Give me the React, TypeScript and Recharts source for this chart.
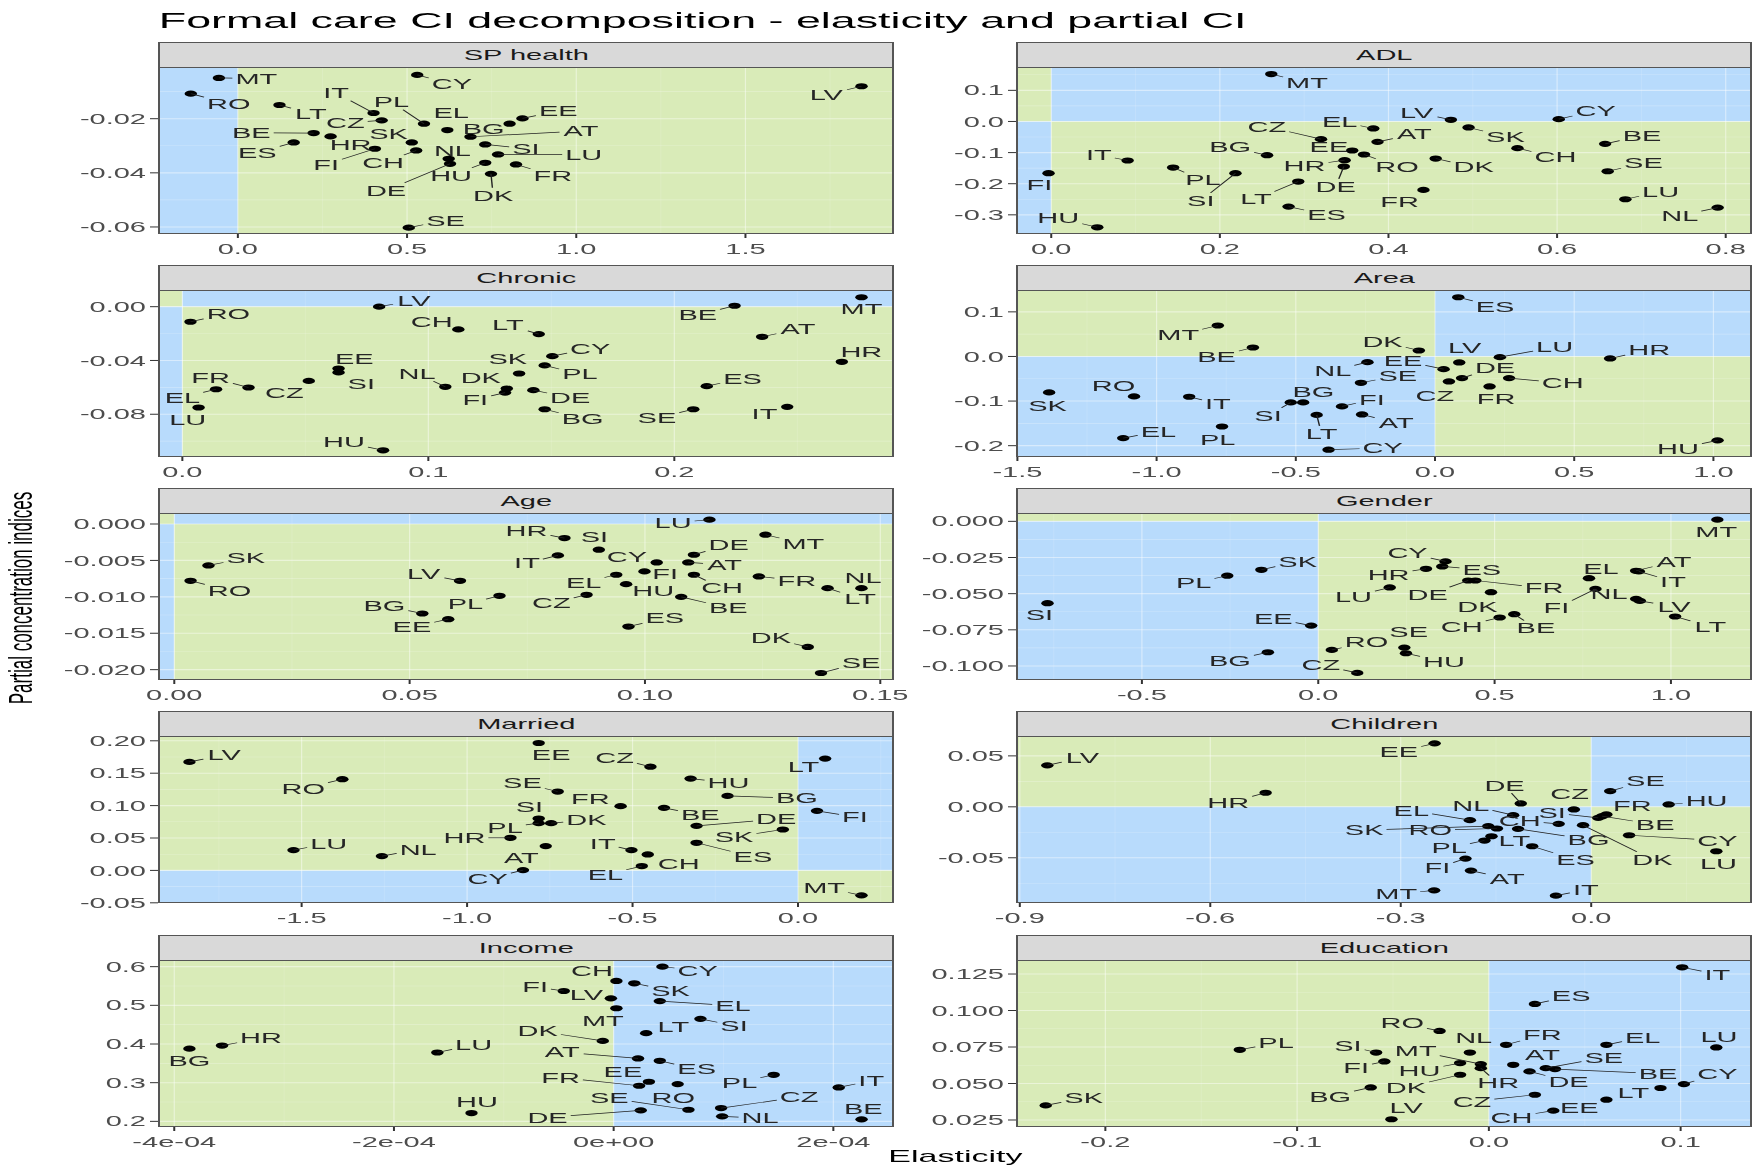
import React from "react"
import {
  ReferenceArea,
  ReferenceLine,
  Scatter,
  ScatterChart,
  XAxis,
  YAxis,
} from "recharts"

type Row = [string, number, number]
type Nudge = Record<string, [number, number]>

// [country, elasticity, partial CI]
const spHealth: Row[] = [
  ["MT", -0.056, -0.00494], ["CY", 0.53, -0.00383], ["RO", -0.139, -0.01074],
  ["LV", 1.843, -0.00802], ["LT", 0.123, -0.01494], ["IT", 0.401, -0.0179],
  ["PL", 0.55, -0.02185], ["CZ", 0.425, -0.0206], ["EL", 0.619, -0.0242],
  ["EE", 0.841, -0.0199], ["BG", 0.803, -0.02185], ["AT", 0.6875, -0.02667],
  ["SK", 0.514, -0.02877], ["BE", 0.224, -0.0253], ["HR", 0.274, -0.02654],
  ["ES", 0.165, -0.02877], ["FI", 0.405, -0.0311], ["CH", 0.527, -0.03173],
  ["NL", 0.623, -0.03481], ["SI", 0.731, -0.02951], ["LU", 0.769, -0.03321],
  ["DE", 0.627, -0.03667], ["HU", 0.731, -0.0363], ["FR", 0.822, -0.03691],
  ["DK", 0.748, -0.04037], ["SE", 0.505, -0.06025],
]
const adl: Row[] = [
  ["MT", 0.261, 0.1524], ["LV", 0.474, 0.0054], ["CY", 0.602, 0.0075],
  ["EL", 0.382, -0.0225], ["SK", 0.495, -0.0193], ["CZ", 0.32, -0.0569],
  ["AT", 0.387, -0.0655], ["EE", 0.357, -0.0933], ["BE", 0.657, -0.0719],
  ["CH", 0.553, -0.0858], ["BG", 0.256, -0.1084], ["IT", 0.0906, -0.1255],
  ["RO", 0.371, -0.1062], ["HR", 0.348, -0.1245], ["DK", 0.456, -0.1191],
  ["PL", 0.1446, -0.1481], ["DE", 0.347, -0.1448], ["SE", 0.66, -0.1599],
  ["SI", 0.2185, -0.1663], ["FI", -0.0032, -0.1663], ["LT", 0.293, -0.1931],
  ["FR", 0.4415, -0.22], ["LU", 0.681, -0.25], ["ES", 0.2815, -0.2736],
  ["NL", 0.7905, -0.2768], ["HU", 0.0546, -0.34],
]
const chronic: Row[] = [
  ["LV", 0.08, 0.0], ["RO", 0.0033, -0.0112], ["BE", 0.2245, 0.0007],
  ["MT", 0.2761, 0.007], ["CH", 0.1122, -0.0169], ["LT", 0.1449, -0.0204],
  ["AT", 0.2357, -0.0224], ["CY", 0.1504, -0.0368], ["HR", 0.2681, -0.041],
  ["EE", 0.0635, -0.046], ["SI", 0.0635, -0.0489], ["SK", 0.1369, -0.0497],
  ["PL", 0.1473, -0.0437], ["NL", 0.1069, -0.0596], ["FR", 0.0269, -0.0601],
  ["CZ", 0.0514, -0.0552], ["EL", 0.0137, -0.0614], ["LU", 0.0066, -0.075],
  ["DK", 0.1319, -0.0609], ["FI", 0.1312, -0.0639], ["DE", 0.1427, -0.0621],
  ["ES", 0.2132, -0.0591], ["SE", 0.2077, -0.0763], ["IT", 0.2459, -0.0745],
  ["BG", 0.1473, -0.0763], ["HU", 0.0816, -0.1068],
]
const area: Row[] = [
  ["ES", 0.0835, 0.1328], ["MT", -0.78, 0.0694], ["BE", -0.654, 0.0201],
  ["DK", -0.058, 0.0134], ["LV", 0.087, -0.0134], ["LU", 0.233, -0.0015],
  ["HR", 0.629, -0.0045], ["NL", -0.2426, -0.0127], ["EE", 0.031, -0.0284],
  ["SE", -0.266, -0.059], ["DE", 0.097, -0.0485], ["CZ", 0.05, -0.056],
  ["CH", 0.266, -0.0485], ["FR", 0.196, -0.0672], ["SK", -1.386, -0.0806],
  ["RO", -1.081, -0.0896], ["IT", -0.883, -0.0903], ["BG", -0.4736, -0.103],
  ["SI", -0.518, -0.103], ["FI", -0.334, -0.112], ["AT", -0.262, -0.13],
  ["LT", -0.425, -0.131], ["PL", -0.765, -0.157], ["EL", -1.12, -0.183],
  ["CY", -0.3824, -0.209], ["HU", 1.015, -0.188],
]
const age: Row[] = [
  ["LU", 0.1137, 0.0006], ["MT", 0.1256, -0.00147], ["HR", 0.0829, -0.00193],
  ["SI", 0.0902, -0.00353], ["DE", 0.1104, -0.00422], ["IT", 0.0815, -0.00431],
  ["SK", 0.00726, -0.00569], ["CY", 0.1025, -0.00528], ["AT", 0.1092, -0.00528],
  ["EL", 0.0939, -0.00697], ["FI", 0.0999, -0.00651], ["CH", 0.1104, -0.00697],
  ["FR", 0.1242, -0.0072], ["LV", 0.0607, -0.0078], ["RO", 0.00346, -0.0078],
  ["HU", 0.096, -0.00826], ["NL", 0.146, -0.00881], ["LT", 0.1388, -0.00881],
  ["CZ", 0.0876, -0.00972], ["PL", 0.0691, -0.00986], ["BE", 0.1077, -0.01],
  ["BG", 0.0527, -0.01229], ["EE", 0.0582, -0.01307], ["ES", 0.0965, -0.01408],
  ["DK", 0.1346, -0.01688], ["SE", 0.1374, -0.02046],
]
const gender: Row[] = [
  ["MT", 1.1316, 0.00115], ["CY", 0.3608, -0.0277], ["ES", 0.3516, -0.0312],
  ["HR", 0.3055, -0.0328], ["SK", -0.1612, -0.0335], ["PL", -0.258, -0.0376],
  ["LU", 0.2027, -0.0457], ["DE", 0.4253, -0.0409], ["FR", 0.4453, -0.0409],
  ["DK", 0.4898, -0.049], ["SI", -0.7677, -0.0566], ["EL", 0.7677, -0.0393],
  ["AT", 0.9013, -0.0342], ["IT", 0.909, -0.0346], ["NL", 0.9013, -0.0536],
  ["FI", 0.786, -0.0467], ["LV", 0.912, -0.055], ["LT", 1.0118, -0.0658],
  ["CH", 0.5144, -0.0665], ["BE", 0.5558, -0.0642], ["EE", -0.02, -0.0721],
  ["RO", 0.0384, -0.0889], ["SE", 0.2441, -0.0873], ["HU", 0.2487, -0.0912],
  ["BG", -0.1428, -0.0905], ["CZ", 0.1106, -0.1048],
]
const married: Row[] = [
  ["LV", -1.839, 0.1674], ["EE", -0.7836, 0.1966], ["CZ", -0.446, 0.16],
  ["LT", 0.082, 0.1725], ["RO", -1.377, 0.1407], ["HU", -0.3246, 0.1417],
  ["SE", -0.7262, 0.1217], ["BG", -0.2131, 0.115], ["FR", -0.536, 0.0991],
  ["BE", -0.405, 0.0965], ["DE", -0.3066, 0.0688], ["FI", 0.0574, 0.0919],
  ["SI", -0.7836, 0.0801], ["DK", -0.746, 0.0729], ["PL", -0.7836, 0.0729],
  ["HR", -0.8689, 0.0503], ["SK", -0.0459, 0.0631], ["ES", -0.3066, 0.0426],
  ["LU", -1.5246, 0.0313], ["NL", -1.2574, 0.0221], ["AT", -0.7623, 0.0375],
  ["IT", -0.5033, 0.0313], ["CH", -0.454, 0.0246], ["EL", -0.472, 0.0067],
  ["CY", -0.8311, 0.0005], ["MT", 0.1918, -0.0385],
]
const children: Row[] = [
  ["EE", -0.2466, 0.0623], ["LV", -0.8567, 0.0407], ["SE", 0.0299, 0.0154],
  ["HR", -0.5128, 0.0138], ["DE", -0.1109, 0.0033], ["HU", 0.122, 0.0023],
  ["CZ", -0.0273, -0.0026], ["FR", 0.0239, -0.0075], ["BE", 0.0171, -0.0092],
  ["SI", 0.0111, -0.0108], ["NL", -0.1229, -0.0082], ["EL", -0.1911, -0.0131],
  ["CH", -0.0512, -0.0167], ["DK", -0.0128, -0.018], ["BG", -0.1152, -0.0216],
  ["RO", -0.1485, -0.0213], ["SK", -0.1621, -0.019], ["CY", 0.0597, -0.0279],
  ["LU", 0.1971, -0.0436], ["LT", -0.157, -0.0289], ["PL", -0.1681, -0.0331],
  ["ES", -0.093, -0.0387], ["FI", -0.198, -0.0508], ["AT", -0.1894, -0.0626],
  ["MT", -0.2474, -0.082], ["IT", -0.0555, -0.0872],
]
const income: Row[] = [
  ["CY", 0.444e-4, 0.6], ["CH", 0.025e-4, 0.563], ["SK", 0.188e-4, 0.557],
  ["FI", -0.454e-4, 0.537], ["LV", -0.025e-4, 0.518], ["EL", 0.42e-4, 0.511],
  ["MT", 0.025e-4, 0.4925], ["SI", 0.79e-4, 0.465], ["LT", 0.296e-4, 0.428],
  ["DK", -0.099e-4, 0.408], ["HR", -3.565e-4, 0.396], ["BG", -3.862e-4, 0.388],
  ["LU", -1.605e-4, 0.378], ["AT", 0.222e-4, 0.3626], ["ES", 0.42e-4, 0.3566],
  ["EE", 0.321e-4, 0.3024], ["FR", 0.232e-4, 0.292], ["RO", 0.583e-4, 0.2963],
  ["PL", 1.457e-4, 0.3204], ["IT", 2.049e-4, 0.2877], ["SE", 0.681e-4, 0.23],
  ["CZ", 0.978e-4, 0.2344], ["DE", 0.247e-4, 0.2284], ["NL", 0.988e-4, 0.213],
  ["HU", -1.294e-4, 0.2215], ["BE", 2.257e-4, 0.2052],
]
const education: Row[] = [
  ["IT", 0.1008, 0.1296], ["ES", 0.024, 0.1045], ["RO", -0.0257, 0.086],
  ["PL", -0.1299, 0.0731], ["SI", -0.0588, 0.0712], ["NL", -0.0099, 0.0712],
  ["FR", 0.009, 0.0765], ["EL", 0.0613, 0.0765], ["LU", 0.1186, 0.0747],
  ["MT", -0.0042, 0.0633], ["HU", -0.015, 0.064], ["DK", -0.015, 0.056],
  ["FI", -0.0545, 0.0651], ["BG", -0.0616, 0.0473], ["SK", -0.2311, 0.035],
  ["LV", -0.0508, 0.0255], ["CZ", 0.024, 0.0423], ["CH", 0.0336, 0.0314],
  ["EE", 0.0613, 0.0389], ["LT", 0.0895, 0.0469], ["CY", 0.1017, 0.0496],
  ["AT", 0.0127, 0.0628], ["DE", 0.0212, 0.0583], ["SE", 0.0297, 0.0605],
  ["BE", 0.0345, 0.0599], ["HR", -0.0042, 0.0605],
]

const spHealthLabels: Nudge = {
  MT: [69, 2], CY: [64, 28], RO: [70, 30], LV: [-65, 25], LT: [58, 26], IT: [-69, -60],
  PL: [-60, -65], CZ: [-67, 8], EL: [7, -51], EE: [66, -22], BG: [-48, 16], AT: [204, -17],
  SK: [-43, -26], BE: [-115, -1], HR: [37, 24], ES: [-67, 31], FI: [-90, 47], CH: [-61, 37],
  NL: [7, -25], SI: [75, 12], LU: [158, 0], DE: [-118, 80], HU: [-63, 38], FR: [68, 33],
  DK: [4, 65], SE: [68, -22],
}
const adlLabels: Nudge = {
  MT: [66, 27], LV: [-63, -22], CY: [68, -25], EL: [-62, -21], SK: [68, 27], CZ: [-100, -38],
  AT: [68, -23], EE: [-43, -12], BE: [68, -24], CH: [70, 27], BG: [-68, -24], IT: [-53, -17],
  RO: [61, 36], HR: [-74, 17], DK: [70, 26], PL: [55, 37], DE: [-15, 60], SE: [66, -24],
  SI: [-64, 82], FI: [-17, 35], LT: [-78, 53], FR: [-44, 35], LU: [65, -23], ES: [70, 25],
  NL: [-70, 24], HU: [-72, -27],
}
const chronicLabels: Nudge = {
  LV: [64, -18], RO: [70, -25], BE: [-68, 28], MT: [0, 36], CH: [-49, -23], LT: [-57, -27],
  AT: [66, -23], CY: [70, -23], HR: [36, -30], EE: [29, -30], SI: [42, 35], SK: [-21, -45],
  PL: [65, 26], NL: [-52, -40], FR: [-70, -30], CZ: [-45, 35], EL: [-62, 25], LU: [-20, 36],
  DK: [-48, -33], FI: [-55, 21], DE: [68, 23], ES: [66, -23], SE: [-67, 26], IT: [-42, 22],
  BG: [70, 28], HU: [-72, -25],
}
const areaLabels: Nudge = {
  ES: [68, 28], MT: [-73, 28], BE: [-67, 27], DK: [-67, -27], LV: [10, -45], LU: [101, -30],
  HR: [72, -26], NL: [-64, 26], EE: [-75, -25], SE: [68, -21], DE: [61, -32], CZ: [-26, 43],
  CH: [99, 15], FR: [12, 38], SK: [-3, 39], RO: [-38, -32], IT: [53, 21], BG: [19, -31],
  SI: [-42, 39], FI: [55, -20], AT: [63, 26], LT: [9, 56], PL: [-8, 40], EL: [65, -20],
  CY: [100, -5], HU: [-73, 25],
}
const ageLabels: Nudge = {
  LU: [-67, 10], MT: [70, 27], HR: [-70, -22], SI: [-8, -40], DE: [64, -30], IT: [-57, 23],
  SK: [69, -22], CY: [-55, -18], AT: [67, 7], EL: [-60, 23], FI: [38, 8], CH: [52, 40],
  FR: [70, 12], LV: [-67, -20], RO: [72, 29], HU: [50, 19], NL: [3, -32], LT: [60, 32],
  CZ: [-65, 25], PL: [-63, 25], BE: [87, 34], BG: [-70, -23], EE: [-67, 24], ES: [67, -25],
  DK: [-68, -26], SE: [74, -31],
}
const genderLabels: Nudge = {
  MT: [-2, 37], CY: [-70, -25], ES: [73, 10], HR: [-69, 18], SK: [67, -25], PL: [-62, 22],
  LU: [-67, 27], DE: [-75, 43], FR: [127, 23], DK: [-25, 43], SI: [-15, 35], EL: [22, -28],
  AT: [70, -28], IT: [63, 30], NL: [-50, -14], FI: [-72, 58], LV: [63, 17], LT: [65, 30],
  CH: [-70, 27], BE: [40, 42], EE: [-70, -22], RO: [64, -23], SE: [8, -46], HU: [70, 25],
  BG: [-70, 26], CZ: [-67, -24],
}
const marriedLabels: Nudge = {
  LV: [64, -21], EE: [23, 36], CZ: [-66, -27], LT: [-40, 24], RO: [-72, 28], HU: [70, 12],
  SE: [-65, -25], BG: [128, 7], FR: [-56, -21], BE: [67, 21], DE: [147, -20], FI: [70, 18],
  SI: [-17, -35], DK: [65, -9], PL: [-62, 13], HR: [-85, 0], SK: [-90, 22], ES: [104, 42],
  LU: [65, -20], NL: [67, -20], AT: [-45, 36], IT: [-53, -20], CH: [57, 27], EL: [-67, 26],
  CY: [-65, 27], MT: [-69, -24],
}
const childrenLabels: Nudge = {
  EE: [-66, 25], LV: [65, -23], SE: [65, -30], HR: [-69, 30], DE: [-30, -54], HU: [70, -10],
  CZ: [-8, -47], FR: [48, -27], BE: [98, 25], SI: [-85, -15], NL: [-78, -29], EL: [-108, -29],
  CH: [-72, -10], DK: [128, 103], BG: [130, 32], RO: [-123, 5], SK: [-229, 12], CY: [163, 16],
  LU: [4, 38], LT: [42, 15], PL: [-65, 22], ES: [80, 40], FI: [-52, 28], AT: [67, 24],
  MT: [-70, 11], IT: [55, -18],
}
const incomeLabels: Nudge = {
  CY: [65, 12], CH: [-45, -31], SK: [67, 22], FI: [-53, -13], LV: [-45, -10], EL: [135, 14],
  MT: [-25, 37], SI: [62, 20], LT: [50, -18], DK: [-120, -30], HR: [72, -22], BG: [0, 36],
  LU: [67, -23], AT: [-140, -19], ES: [68, 25], EE: [-48, -31], FR: [-145, -25], RO: [-8, 42],
  PL: [-63, 23], IT: [60, -20], SE: [-146, -35], CZ: [144, -33], DE: [-172, 21], NL: [70, 5],
  HU: [10, -33], BE: [3, -32],
}
const educationLabels: Nudge = {
  IT: [65, 21], ES: [67, -24], RO: [-69, -23], PL: [67, -20], SI: [-52, -21], NL: [7, -45],
  FR: [67, -30], EL: [67, -22], LU: [5, -33], MT: [-120, -40], HU: [-75, 23], DK: [-100, 38],
  FI: [-52, 18], BG: [-75, 27], SK: [70, -22], LV: [27, -34], CZ: [-116, 20], CH: [-77, 20],
  EE: [-50, 23], LT: [-50, 15], CY: [62, -30], AT: [54, -30], DE: [72, 30], SE: [107, -32],
  BE: [190, 14], HR: [32, 45],
}

type Panel = {
  title: string
  data: Row[]
  labels: Nudge
  xDomain: [number, number]
  yDomain: [number, number]
  xTicks: number[]
  yTicks: number[]
  xMinor: number[]
  yMinor: number[]
  xFmt: (v: number) => string
  yFmt: (v: number) => string
}

const fix = (d: number) => (v: number) => v.toFixed(d)
const sci = (v: number) => {
  if (v === 0) return "0e+00"
  const e = Math.floor(Math.log10(Math.abs(v)) + 1e-9)
  const m = Math.round(v / Math.pow(10, e))
  return `${m}e${e < 0 ? "-" : "+"}${String(Math.abs(e)).padStart(2, "0")}`
}

const panels: Panel[] = [
  {
    title: "SP health", data: spHealth, labels: spHealthLabels,
    xDomain: [-0.236, 1.936], yDomain: [-0.0626, -0.0009],
    xTicks: [0, 0.5, 1, 1.5], yTicks: [-0.06, -0.04, -0.02],
    xMinor: [0.25, 0.75, 1.25, 1.75], yMinor: [-0.05, -0.03, -0.01],
    xFmt: fix(1), yFmt: fix(2),
  },
  {
    title: "ADL", data: adl, labels: adlLabels,
    xDomain: [-0.0418, 0.83], yDomain: [-0.3616, 0.175],
    xTicks: [0, 0.2, 0.4, 0.6, 0.8], yTicks: [-0.3, -0.2, -0.1, 0, 0.1],
    xMinor: [0.1, 0.3, 0.5, 0.7], yMinor: [-0.25, -0.15, -0.05, 0.05, 0.15],
    xFmt: fix(1), yFmt: fix(1),
  },
  {
    title: "Chronic", data: chronic, labels: chronicLabels,
    xDomain: [-0.0099, 0.2889], yDomain: [-0.1118, 0.0124],
    xTicks: [0, 0.1, 0.2], yTicks: [-0.08, -0.04, 0],
    xMinor: [0.05, 0.15, 0.25], yMinor: [-0.1, -0.06, -0.02],
    xFmt: fix(1), yFmt: fix(2),
  },
  {
    title: "Area", data: area, labels: areaLabels,
    xDomain: [-1.505, 1.135], yDomain: [-0.2254, 0.149],
    xTicks: [-1.5, -1, -0.5, 0, 0.5, 1], yTicks: [-0.2, -0.1, 0, 0.1],
    xMinor: [-1.25, -0.75, -0.25, 0.25, 0.75], yMinor: [-0.15, -0.05, 0.05],
    xFmt: fix(1), yFmt: fix(1),
  },
  {
    title: "Age", data: age, labels: ageLabels,
    xDomain: [-0.00346, 0.1527], yDomain: [-0.02142, 0.00151],
    xTicks: [0, 0.05, 0.1, 0.15], yTicks: [-0.02, -0.015, -0.01, -0.005, 0],
    xMinor: [0.025, 0.075, 0.125], yMinor: [-0.0175, -0.0125, -0.0075, -0.0025],
    xFmt: fix(2), yFmt: fix(3),
  },
  {
    title: "Gender", data: gender, labels: genderLabels,
    xDomain: [-0.857, 1.227], yDomain: [-0.1097, 0.00577],
    xTicks: [-0.5, 0, 0.5, 1], yTicks: [-0.1, -0.075, -0.05, -0.025, 0],
    xMinor: [-0.75, -0.25, 0.25, 0.75], yMinor: [-0.0875, -0.0625, -0.0375, -0.0125],
    xFmt: fix(1), yFmt: fix(3),
  },
  {
    title: "Married", data: married, labels: marriedLabels,
    xDomain: [-1.934, 0.287], yDomain: [-0.0503, 0.2074],
    xTicks: [-1.5, -1, -0.5, 0], yTicks: [-0.05, 0, 0.05, 0.1, 0.15, 0.2],
    xMinor: [-1.75, -1.25, -0.75, -0.25, 0.25],
    yMinor: [-0.025, 0.025, 0.075, 0.125, 0.175],
    xFmt: fix(1), yFmt: fix(2),
  },
  {
    title: "Children", data: children, labels: childrenLabels,
    xDomain: [-0.906, 0.2517], yDomain: [-0.0944, 0.0695],
    xTicks: [-0.9, -0.6, -0.3, 0], yTicks: [-0.05, 0, 0.05],
    xMinor: [-0.75, -0.45, -0.15, 0.15], yMinor: [-0.075, -0.025, 0.025],
    xFmt: fix(1), yFmt: fix(2),
  },
  {
    title: "Income", data: income, labels: incomeLabels,
    xDomain: [-4.148e-4, 2.543e-4], yDomain: [0.1854, 0.6172],
    xTicks: [-4e-4, -2e-4, 0, 2e-4], yTicks: [0.2, 0.3, 0.4, 0.5, 0.6],
    xMinor: [-3e-4, -1e-4, 1e-4], yMinor: [0.25, 0.35, 0.45, 0.55],
    xFmt: sci, yFmt: fix(1),
  },
  {
    title: "Education", data: education, labels: educationLabels,
    xDomain: [-0.2466, 0.1367], yDomain: [0.0202, 0.1346],
    xTicks: [-0.2, -0.1, 0, 0.1], yTicks: [0.025, 0.05, 0.075, 0.1, 0.125],
    xMinor: [-0.15, -0.05, 0.05], yMinor: [0.0375, 0.0625, 0.0875, 0.1125],
    xFmt: fix(1), yFmt: fix(3),
  },
]

// the reference is stretched 2x horizontally, so draw at half width and scale
const STRETCH = 2
const W = 876
const H = 1167
const FONT = '"Liberation Sans", Arial, Helvetica, sans-serif'
const GREEN = "#d9ebb8"
const BLUE = "#b8dbfc"
const COL_LEFT = [79.4, 508.4]
const PLOT_W = 367.5
const PLOT_H = 167
const ROW0 = 66.7
const ROW_STEP = 223.25
const STRIP_H = 25
const Y_AXIS_W = 62
const X_AXIS_H = 30
const RIGHT_PAD = 22
const TICK_FS = 14.5
const LABEL_FS = 14.5
const NUDGE_X = 1 / 3.69
const NUDGE_Y = 1 / 3

const CHAR_W: Record<string, number> = {
  A: 0.667, B: 0.667, C: 0.722, D: 0.722, E: 0.667, F: 0.611, G: 0.778, H: 0.722,
  I: 0.278, K: 0.667, L: 0.556, M: 0.833, N: 0.722, O: 0.778, P: 0.667, R: 0.722,
  S: 0.667, T: 0.611, U: 0.722, V: 0.667, Y: 0.667, Z: 0.611,
}
const textWidth = (s: string) =>
  s.split("").reduce((w, c) => w + (CHAR_W[c] ?? 0.667), 0) * LABEL_FS

function Dot(props: any) {
  const { cx, cy } = props
  if (cx == null || cy == null) return <g />
  return <circle cx={cx} cy={cy} r={3.1} fill="#000" />
}

function RepelLabel(props: any, nudge: Nudge) {
  const { cx, cy, payload } = props
  if (cx == null || cy == null || !payload) return <g />
  const name: string = payload.name
  const off = nudge[name] ?? [60, 0]
  const lx = cx + off[0] * NUDGE_X
  const ly = cy + off[1] * NUDGE_Y
  const hw = textWidth(name) / 2 + 1.5
  const hh = LABEL_FS * 0.36 + 2.5
  const vx = cx - lx
  const vy = cy - ly
  let seg: React.ReactNode = null
  if (Math.abs(vx) > hw || Math.abs(vy) > hh) {
    const t = Math.min(
      vx ? hw / Math.abs(vx) : Infinity,
      vy ? hh / Math.abs(vy) : Infinity
    )
    const ex = lx + vx * t
    const ey = ly + vy * t
    if (Math.hypot((ex - cx) * STRETCH, ey - cy) > 10) {
      seg = <line x1={cx} y1={cy} x2={ex} y2={ey} stroke="#222" strokeWidth={0.7} />
    }
  }
  return (
    <g>
      {seg}
      <text
        x={lx}
        y={ly + LABEL_FS * 0.36}
        textAnchor="middle"
        fontSize={LABEL_FS}
        fontFamily={FONT}
        fill="#262626"
      >
        {name}
      </text>
    </g>
  )
}

function Facet({ p, index }: { p: Panel; index: number }) {
  const col = index % 2
  const row = Math.floor(index / 2)
  const plotLeft = COL_LEFT[col]
  const plotTop = ROW0 + ROW_STEP * row
  const padTop = 10
  const chartW = Y_AXIS_W + PLOT_W + RIGHT_PAD
  const chartH = padTop + PLOT_H + X_AXIS_H
  const data = p.data.map(([name, x, y]) => ({ name, x, y }))

  const [x0, x1] = p.xDomain
  const [y0, y1] = p.yDomain
  const xm = Math.min(Math.max(0, x0), x1)
  const ym = Math.min(Math.max(0, y0), y1)
  const quads = [
    [x0, xm, ym, y1],
    [xm, x1, ym, y1],
    [x0, xm, y0, ym],
    [xm, x1, y0, ym],
  ].filter((q) => q[1] > q[0] && q[3] > q[2])

  const tick = { fill: "#4d4d4d", fontSize: TICK_FS, fontFamily: FONT }

  return (
    <>
      <div
        style={{
          position: "absolute",
          left: plotLeft - Y_AXIS_W,
          top: plotTop - padTop,
          width: chartW,
          height: chartH,
        }}
      >
        <ScatterChart
          width={chartW}
          height={chartH}
          margin={{ top: padTop, right: RIGHT_PAD, bottom: 0, left: 0 }}
        >
          <XAxis
            type="number"
            dataKey="x"
            domain={p.xDomain}
            allowDataOverflow
            ticks={p.xTicks}
            interval={0}
            tickFormatter={(v: number) => p.xFmt(v)}
            axisLine={false}
            tickLine={{ stroke: "#333" }}
            tickSize={4}
            tickMargin={6}
            height={X_AXIS_H}
            tick={tick}
          />
          <YAxis
            type="number"
            dataKey="y"
            domain={p.yDomain}
            allowDataOverflow
            ticks={p.yTicks}
            interval={0}
            tickFormatter={(v: number) => p.yFmt(v)}
            axisLine={false}
            tickLine={{ stroke: "#333" }}
            tickSize={4}
            tickMargin={2}
            width={Y_AXIS_W}
            tick={tick}
          />
          {quads.map((q, i) => (
            <ReferenceArea
              key={`q${i}`}
              x1={q[0]}
              x2={q[1]}
              y1={q[2]}
              y2={q[3]}
              fill={((q[0] + q[1]) / 2) * ((q[2] + q[3]) / 2) < 0 ? GREEN : BLUE}
              fillOpacity={1}
              stroke="none"
            />
          ))}
          {p.xMinor.map((v) => (
            <ReferenceLine key={`xm${v}`} x={v} stroke="#fff" strokeOpacity={0.3} strokeWidth={0.3} />
          ))}
          {p.yMinor.map((v) => (
            <ReferenceLine key={`ym${v}`} y={v} stroke="#fff" strokeOpacity={0.3} strokeWidth={0.6} />
          ))}
          {p.xTicks.map((v) => (
            <ReferenceLine key={`xM${v}`} x={v} stroke="#fff" strokeOpacity={0.45} strokeWidth={0.6} />
          ))}
          {p.yTicks.map((v) => (
            <ReferenceLine key={`yM${v}`} y={v} stroke="#fff" strokeOpacity={0.45} strokeWidth={1.1} />
          ))}
          <Scatter data={data} isAnimationActive={false} shape={Dot} />
          <Scatter
            data={data}
            isAnimationActive={false}
            shape={(props: any) => RepelLabel(props, p.labels)}
          />
        </ScatterChart>
      </div>
      <div
        style={{
          position: "absolute",
          left: plotLeft,
          top: plotTop,
          width: PLOT_W,
          height: PLOT_H,
          border: "1px solid #555",
          boxSizing: "border-box",
          pointerEvents: "none",
        }}
      />
      <div
        style={{
          position: "absolute",
          left: plotLeft,
          top: plotTop - STRIP_H,
          width: PLOT_W,
          height: STRIP_H + 1,
          background: "#d9d9d9",
          border: "1px solid #555",
          boxSizing: "border-box",
          display: "flex",
          alignItems: "center",
          justifyContent: "center",
          fontFamily: FONT,
          fontSize: TICK_FS,
          color: "#1a1a1a",
        }}
      >
        {p.title}
      </div>
    </>
  )
}

export default function App() {
  return (
    <div
      style={{
        position: "absolute",
        left: 0,
        top: 0,
        width: W * STRETCH,
        height: H,
        overflow: "hidden",
        background: "#fff",
      }}
    >
      <div
        style={{
          position: "absolute",
          left: 0,
          top: 0,
          width: W,
          height: H,
          transform: `scaleX(${STRETCH})`,
          transformOrigin: "0 0",
        }}
      >
        <svg
          width={W}
          height={H}
          style={{ position: "absolute", left: 0, top: 0 }}
          fontFamily={FONT}
        >
          <text x={79.4} y={28.3} fontSize={22.4} fill="#000">
            Formal care CI decomposition - elasticity and partial CI
          </text>
          <text
            transform="translate(15.9,598) rotate(-90)"
            textAnchor="middle"
            fontSize={17}
            fill="#000"
          >
            Partial concentration indices
          </text>
          <text x={477.7} y={1162} textAnchor="middle" fontSize={17} fill="#000">
            Elasticity
          </text>
        </svg>
        {panels.map((p, i) => (
          <Facet key={p.title} p={p} index={i} />
        ))}
      </div>
    </div>
  )
}
